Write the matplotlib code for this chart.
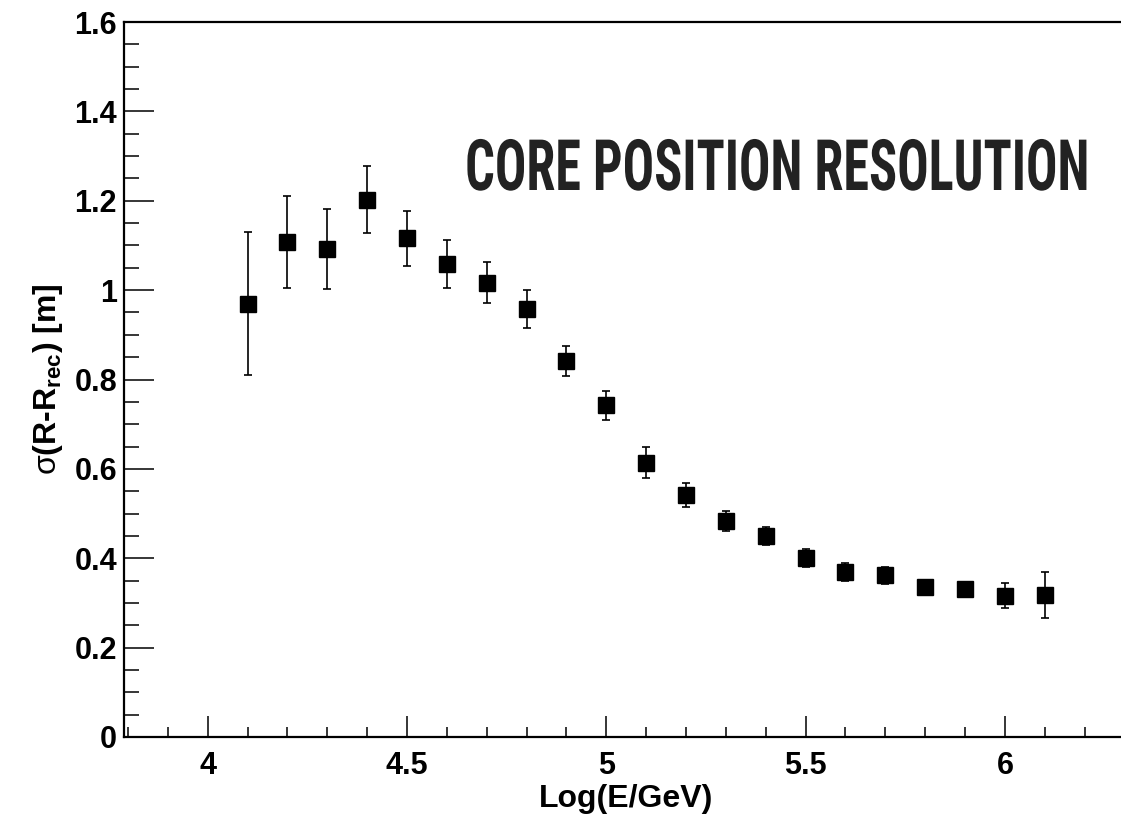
import matplotlib
matplotlib.use("Agg")
import matplotlib.pyplot as plt
from matplotlib import font_manager
from matplotlib.patheffects import AbstractPathEffect
from matplotlib.transforms import Affine2D
from matplotlib.ticker import MultipleLocator, FixedLocator

# ---- data ----
log_e = [4.1, 4.2, 4.3, 4.4, 4.5, 4.6, 4.7, 4.8, 4.9, 5.0, 5.1,
         5.2, 5.3, 5.4, 5.5, 5.6, 5.7, 5.8, 5.9, 6.0, 6.1]
sigma = [0.970, 1.108, 1.092, 1.202, 1.116, 1.058, 1.017, 0.958, 0.841, 0.742, 0.614,
         0.542, 0.483, 0.450, 0.401, 0.369, 0.362, 0.336, 0.331, 0.316, 0.318]
sigma_err = [0.160, 0.103, 0.090, 0.075, 0.061, 0.054, 0.046, 0.042, 0.034, 0.032, 0.035,
             0.027, 0.023, 0.020, 0.020, 0.020, 0.019, 0.012, 0.010, 0.028, 0.052]
x_ticks = [4, 4.5, 5, 5.5, 6]
x_ticklabels = ["4", "4.5", "5", "5.5", "6"]
y_ticks = [0, 0.2, 0.4, 0.6, 0.8, 1.0, 1.2, 1.4, 1.6]
y_ticklabels = ["0", "0.2", "0.4", "0.6", "0.8", "1", "1.2", "1.4", "1.6"]
title = "CORE POSITION RESOLUTION"
xlabel = "Log(E/GeV)"
ylabel = r"$\mathrm{σ}$(R-R$_{\mathbf{rec}}$) [m]"

# ---- fonts ----
names = {f.name for f in font_manager.fontManager.ttflist}
main_font = "Liberation Sans" if "Liberation Sans" in names else "DejaVu Sans"
plt.rcParams["font.family"] = [main_font, "DejaVu Sans"]
plt.rcParams["mathtext.fontset"] = "custom"
plt.rcParams["mathtext.rm"] = main_font
plt.rcParams["mathtext.bf"] = main_font + ":bold"
plt.rcParams["mathtext.it"] = main_font + ":italic"

title_font = None
for cand in ["Liberation Sans Narrow", "DejaVu Sans Condensed", "Roboto Condensed", "Open Sans Condensed"]:
    if cand in names:
        title_font = cand
        break
if title_font is None:
    title_font = "Roboto" if "Roboto" in names else "DejaVu Sans"


class HSqueeze(AbstractPathEffect):
    """Compress text horizontally to a target pixel width, anchored at the right end."""
    def __init__(self, target_px):
        super().__init__()
        self.target_px = target_px

    def draw_path(self, renderer, gc, tpath, affine, rgbFace=None):
        ext = tpath.get_extents(affine)
        if ext.width > 0:
            sx = self.target_px / ext.width
            x1 = ext.x1
            affine = affine + Affine2D().translate(-x1, 0).scale(sx, 1.0).translate(x1, 0)
        renderer.draw_path(gc, tpath, affine, rgbFace)


W, H, DPI = 1121, 815, 100
fig = plt.figure(figsize=(W / DPI, H / DPI), dpi=DPI)
fig.patch.set_facecolor("white")

x0, x1 = 3.79, 6.31
px_per_unit = 398.6
ax_left = 124 / W
ax_width = (x1 - x0) * px_per_unit / W
ax_bottom = (H - 737) / H
ax_height = 715 / H
ax = fig.add_axes([ax_left, ax_bottom, ax_width, ax_height])

ax.errorbar(log_e, sigma, yerr=sigma_err, fmt="s", color="black",
            markersize=11.5, elinewidth=1.2, capsize=2.9, capthick=1.2,
            ecolor="black", zorder=3)

ax.set_xlim(x0, x1)
ax.set_ylim(0, 1.6)

ax.xaxis.set_major_locator(FixedLocator(x_ticks))
ax.set_xticklabels(x_ticklabels)
ax.xaxis.set_minor_locator(MultipleLocator(0.1))
ax.yaxis.set_major_locator(FixedLocator(y_ticks))
ax.set_yticklabels(y_ticklabels)
ax.yaxis.set_minor_locator(MultipleLocator(0.05))

for side in ["top", "right", "bottom", "left"]:
    ax.spines[side].set_linewidth(1.6)
ax.spines["right"].set_visible(False)

ax.tick_params(axis="x", which="major", direction="in", length=15, width=1.1,
               labelsize=22, pad=10, top=False)
ax.tick_params(axis="x", which="minor", direction="in", length=7.5, width=1.1, top=False)
ax.tick_params(axis="y", which="major", direction="in", length=21.6, width=1.1,
               labelsize=22, pad=5, right=False)
ax.tick_params(axis="y", which="minor", direction="in", length=10.8, width=1.1, right=False)
for lab in ax.get_xticklabels() + ax.get_yticklabels():
    lab.set_fontweight("bold")

ax.set_xlabel(xlabel, fontsize=23, fontweight="bold", labelpad=2)
ax.set_ylabel(ylabel, fontsize=23, fontweight="bold", labelpad=7)

# title text, anchored at right end (x=1091px, baseline ~190px)
fig.text(1091 / W, 1 - 190 / H, title, fontsize=51, fontweight="bold",
         family=[title_font, "DejaVu Sans"], color="#222222",
         ha="right", va="baseline",
         path_effects=[HSqueeze(619)])

fig.savefig("out.png", dpi=DPI, facecolor="white")
